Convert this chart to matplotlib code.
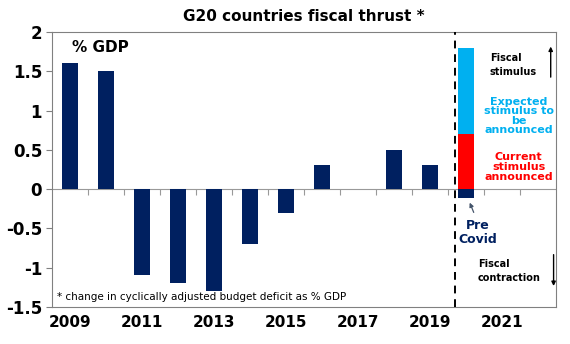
import matplotlib.pyplot as plt
import numpy as np

# data
years = [2009, 2010, 2011, 2012, 2013, 2014, 2015, 2016, 2017, 2018, 2019]
thrust = [1.6, 1.5, -1.1, -1.2, -1.3, -0.7, -0.3, 0.3, 0.0, 0.5, 0.3]
year_2020 = 2020
pre_covid = -0.12
current_stimulus = 0.7
expected_total = 1.8
tick_years = [2009, 2011, 2013, 2015, 2017, 2019, 2021]

navy = '#002060'
red = '#FF0000'
sky = '#00B0F0'

fig = plt.figure(figsize=(5.7, 3.44), dpi=100)
ax = fig.add_axes([0.091, 0.108, 0.884, 0.799])

w = 0.45
ax.bar(years, thrust, width=w, color=navy, zorder=3)
ax.bar(year_2020, current_stimulus, width=w, color=red, zorder=3)
ax.bar(year_2020, expected_total - current_stimulus, bottom=current_stimulus, width=w, color=sky, zorder=3)
ax.bar(year_2020, pre_covid, width=w, color=navy, zorder=3)

ax.set_xlim(2008.5, 2022.5)
ax.set_ylim(-1.5, 2)

# zero line with category ticks pointing down
ax.axhline(0, color='#999999', lw=0.8, zorder=2)
bounds = np.arange(2009.5, 2022.5, 1)
ax.plot(bounds, np.zeros_like(bounds), ls='none', marker=3, ms=4, color='#999999', mew=0.8, zorder=2)

ax.axvline(2019.69, color='black', ls=(0, (4, 3)), lw=1.4, zorder=4)

ax.set_xticks(tick_years)
ax.set_xticklabels([str(y) for y in tick_years], fontsize=11, fontweight='bold')
ax.tick_params(axis='x', length=0, pad=6)
ax.set_yticks([2, 1.5, 1, 0.5, 0, -0.5, -1, -1.5])
ax.set_yticklabels(['2', '1.5', '1', '0.5', '0', '-0.5', '-1', '-1.5'], fontsize=12, fontweight='bold')
ax.tick_params(axis='y', length=4, color='#808080', pad=3)
for s in ax.spines.values():
    s.set_color('#808080')
    s.set_linewidth(0.8)

ax.set_title('G20 countries fiscal thrust *', fontsize=11, fontweight='bold', pad=8)

ax.text(2009.05, 1.8, '% GDP', fontsize=11, fontweight='bold', va='center', ha='left')
ax.text(2008.65, -1.38, '* change in cyclically adjusted budget deficit as % GDP', fontsize=7.5,
        va='center', ha='left')

ax.text(2020.67, 1.58, 'Fiscal\nstimulus', fontsize=7, fontweight='bold', va='center', ha='left',
        linespacing=1.5)
ax.annotate('', xy=(2022.36, 1.85), xytext=(2022.36, 1.39),
            arrowprops=dict(arrowstyle='-|>', color='black', lw=1.0, mutation_scale=6))
ax.text(2021.47, 0.93, 'Expected\nstimulus to\nbe\nannounced', fontsize=8, fontweight='bold',
        color=sky, va='center', ha='center', linespacing=0.95)
ax.text(2021.47, 0.28, 'Current\nstimulus\nannounced', fontsize=8, fontweight='bold',
        color=red, va='center', ha='center', linespacing=0.95)
ax.text(2020.33, -0.55, 'Pre\nCovid', fontsize=9, fontweight='bold', color=navy,
        va='center', ha='center', linespacing=1.1)
ax.annotate('', xy=(2020.08, -0.14), xytext=(2020.25, -0.33),
            arrowprops=dict(arrowstyle='-|>', color='#44546A', lw=0.9, mutation_scale=6))
ax.text(2020.33, -1.04, 'Fiscal\ncontraction', fontsize=7, fontweight='bold', va='center', ha='left',
        linespacing=1.5)
ax.annotate('', xy=(2022.44, -1.27), xytext=(2022.44, -0.8),
            arrowprops=dict(arrowstyle='-|>', color='black', lw=1.0, mutation_scale=6))

plt.savefig('out.png', dpi=100)
plt.close()
